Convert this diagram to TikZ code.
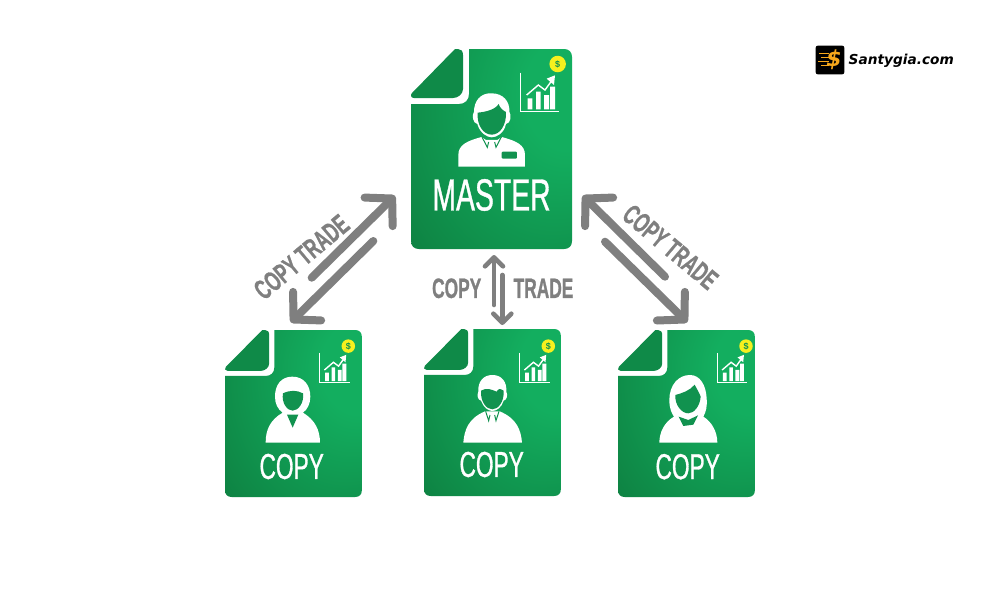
\documentclass[tikz,border=0pt]{standalone}
\usepackage{fontspec}
\usetikzlibrary{arrows.meta}
\setmainfont{Liberation Sans}
\newfontfamily\condfont[FakeStretch=.63,FakeBold=.8]{Liberation Sans}
\newfontfamily\condbold[FakeStretch=.62,FakeBold=.8]{Liberation Sans Bold}
\newfontfamily\logofont{DejaVu Sans}
\definecolor{lightg}{HTML}{13AE5F}
\definecolor{darkg}{HTML}{0D7A3D}
\definecolor{faceg}{HTML}{11924F}
\definecolor{foldg}{HTML}{0F8A48}
\definecolor{arrowgray}{HTML}{7F7F7F}
\definecolor{coiny}{HTML}{F6F01E}
\definecolor{logoorange}{HTML}{F7A81B}
\pgfdeclareradialshading{cardshade}{\pgfpoint{28bp}{16bp}}{%
  color(0bp)=(lightg); color(14bp)=(lightg); color(58bp)=(darkg); color(100bp)=(darkg)}
\tikzset{
  x=1pt,y=-1pt,
  persona/.style={fill=white},
  personb/.style={fill=faceg},
  bigarrow/.style={draw=arrowgray,line width=8pt,line cap=round,
    -{Straight Barb[length=19pt,width=40pt,round=false]}},
  thinarrow/.style={draw=arrowgray,line width=4.6pt,line cap=round,
    -{Straight Barb[length=9pt,width=18pt,round=false]}},
  graytext/.style={text=arrowgray,inner sep=0pt,font=\condbold\fontsize{28}{28}\selectfont},
  titletext/.style={text=white,inner sep=0pt,font=\condfont\fontsize{36}{36}\selectfont},
  coin/.style={circle,fill=coiny,inner sep=0pt,text=faceg,font=\bfseries},
}
\newcommand{\drawcard}[5]{%
  \begin{scope}[shift={(#1,#2)},xscale=#3,yscale=#4]
    \shade[shading=cardshade] (58,0) -- (153,0) .. controls (158,0) and (161,3) .. (161,8)
      -- (161,192) .. controls (161,197) and (158,200) .. (153,200)
      -- (8,200) .. controls (3,200) and (0,197) .. (0,192)
      -- (0,55) -- (48,55) .. controls (54,55) and (58,51) .. (58,45) -- cycle;
    \fill[foldg] (44,0) -- (47,0) .. controls (50,0) and (52,2) .. (52,6)
      -- (52,40) .. controls (52,45) and (47,49) .. (42,49)
      -- (3,49) .. controls (0,49) and (-1,46) .. (1,44) -- cycle;
    \node[inner sep=0pt,minimum width=137pt,minimum height=167pt] (#5) at (80.5,100) {};
  \end{scope}}
\newcommand{\charticon}[6]{%
  \begin{scope}[shift={(#1,#2)},scale=#3]
    \draw[white,line width=#4] (0,-115) -- (0,0) -- (118,0);
    \fill[white] (23,-5) rectangle (37,-38) (48,-5) rectangle (62,-58)
      (72,-5) rectangle (87,-48) (90,-5) rectangle (105,-73);
    \draw[white,line width=1.4pt] (20,-48) -- (55,-78) -- (75,-63) -- (98,-95);
    \fill[white] (105,-107) -- (80,-97) -- (102,-78) -- cycle;
    \node[coin,minimum size=#5] (#6) at (113,-141) {\fontsize{9}{9}\selectfont\$};
  \end{scope}}
\begin{document}
\begin{tikzpicture}
\useasboundingbox (0,0) rectangle (1000,600);
\fill[white] (0,0) rectangle (1000,600);

% Cards
\drawcard{411}{49}{1}{1}{master}
\drawcard{225}{330}{.85}{.835}{copyleft}
\drawcard{424}{329}{.85}{.835}{copymid}
\drawcard{618}{330}{.85}{.835}{copyright}

% Charts and coins
\charticon{520}{111}{.3333}{1pt}{16.5pt}{coinm}
\charticon{319.3}{382.3}{.2567}{.8pt}{13.5pt}{coina}
\charticon{519.3}{382.3}{.2567}{.8pt}{13.5pt}{coinb}
\charticon{717}{382.3}{.2567}{.8pt}{13.5pt}{coinc}

% Master person
\begin{scope}[shift={(400,40)},scale=.3333]
  \fill[persona] (275,160) .. controls (240,158) and (222,185) .. (222,215)
    .. controls (215,225) and (218,250) .. (232,252)
    .. controls (240,280) and (262,292) .. (275,292)
    .. controls (290,292) and (312,280) .. (318,252)
    .. controls (333,250) and (335,225) .. (328,215)
    .. controls (330,185) and (310,160) .. (275,160) -- cycle;
  \fill[personb] (233,218) .. controls (255,216) and (285,210) .. (296,192)
    .. controls (300,205) and (310,212) .. (318,216)
    .. controls (320,255) and (300,284) .. (275,284)
    .. controls (250,284) and (230,255) .. (233,218) -- cycle;
  \fill[persona] (175,380) -- (175,345) .. controls (175,315) and (200,303) .. (245,291)
    -- (258,300) -- (292,300) -- (305,291)
    .. controls (350,303) and (375,315) .. (375,345) -- (375,380) -- cycle;
  \draw[faceg,line width=1pt] (246,291) -- (262,322) -- (266,306) (304,291) -- (288,322) -- (284,306);
  \fill[personb,rounded corners=1pt] (305,335) rectangle (351,356);
\end{scope}

% Left copy person
\begin{scope}[shift={(215,320)},scale=.3333]
  \fill[persona] (232,170) .. controls (198,170) and (180,195) .. (180,230)
    .. controls (180,250) and (188,268) .. (203,278)
    .. controls (165,300) and (152,330) .. (152,368) -- (315,368)
    .. controls (315,330) and (300,300) .. (264,278)
    .. controls (278,268) and (286,250) .. (286,230)
    .. controls (286,195) and (266,170) .. (232,170) -- cycle;
  \fill[personb] (204,220) .. controls (225,210) and (245,210) .. (264,220)
    .. controls (268,248) and (250,272) .. (233,272)
    .. controls (216,272) and (199,248) .. (204,220) -- cycle;
  \fill[personb] (216,284) -- (250,284) -- (233,323) -- cycle;
\end{scope}

% Middle copy person
\begin{scope}[shift={(415,320)},scale=.3333]
  \fill[persona] (232,165) .. controls (205,165) and (188,185) .. (190,215)
    .. controls (185,225) and (188,240) .. (198,242)
    .. controls (205,262) and (220,273) .. (232,273)
    .. controls (245,273) and (260,262) .. (266,242)
    .. controls (276,240) and (279,225) .. (274,215)
    .. controls (276,185) and (260,165) .. (232,165) -- cycle;
  \fill[personb] (198,212) .. controls (215,202) and (228,208) .. (245,215)
    .. controls (250,205) and (255,205) .. (266,212)
    .. controls (268,245) and (250,268) .. (232,268)
    .. controls (214,268) and (196,245) .. (198,212) -- cycle;
  \fill[persona] (145,368) .. controls (148,330) and (160,295) .. (210,274)
    -- (254,274) .. controls (305,295) and (318,330) .. (321,368) -- cycle;
  \draw[faceg,line width=1pt] (212,274) -- (221,302) -- (225,285) (252,274) -- (243,302) -- (239,285);
\end{scope}

% Right copy person
\begin{scope}[shift={(610,320)},scale=.3333]
  \fill[persona] (240,165) .. controls (205,165) and (178,195) .. (178,240)
    .. controls (178,265) and (185,280) .. (192,290)
    .. controls (165,305) and (148,335) .. (148,368) -- (322,368)
    .. controls (322,335) and (305,305) .. (280,290)
    .. controls (288,275) and (292,260) .. (290,235)
    .. controls (288,195) and (270,165) .. (240,165) -- cycle;
  \fill[personb] (196,225) .. controls (215,220) and (240,212) .. (254,194)
    .. controls (262,210) and (270,222) .. (272,230)
    .. controls (270,258) and (252,280) .. (235,280)
    .. controls (215,280) and (194,255) .. (196,225) -- cycle;
  \fill[personb] (206,290) -- (235,300) -- (264,286) -- (250,314) -- (220,318) -- cycle;
\end{scope}

% Card titles
\node[titletext,font=\condfont\fontsize{45}{45}\selectfont] (mastertitle) at (491.5,195) {MASTER};
\node[titletext] (copytitlea) at (291.7,466.5) {COPY};
\node[titletext] (copytitleb) at (491.7,464.5) {COPY};
\node[titletext] (copytitlec) at (687.7,466.7) {COPY};

% Arrow ends
\coordinate (la1) at (311.7,277.7); \coordinate (la2) at (395,195.7);
\coordinate (lb1) at (373.3,241);   \coordinate (lb2) at (290.7,322.3);
\coordinate (ra1) at (665,276.7);   \coordinate (ra2) at (582.7,195.7);
\coordinate (rb1) at (605,241.7);   \coordinate (rb2) at (687.3,322.3);
\coordinate (ma1) at (494,305);     \coordinate (ma2) at (494,255);
\coordinate (mb1) at (502.3,275);   \coordinate (mb2) at (502.3,325);

\draw[bigarrow] (la1) -- (la2);
\draw[bigarrow] (lb1) -- (lb2);
\draw[bigarrow] (ra1) -- (ra2);
\draw[bigarrow] (rb1) -- (rb2);
\draw[thinarrow] (ma1) -- (ma2);
\draw[thinarrow] (mb1) -- (mb2);

% Arrow labels
\node[graytext,rotate=40] (lefttext) at (301.5,257) {COPY TRADE};
\node[graytext,rotate=-40] (righttext) at (670.5,247) {COPY TRADE};
\node[graytext] (midcopy) at (456.7,288.3) {COPY};
\node[graytext] (midtrade) at (543.5,288.3) {TRADE};

% Logo
\node[fill=black,rounded corners=2pt,minimum size=28.6pt,inner sep=0pt] (logobox) at (830,60) {};
\draw[logoorange,line width=1.7pt] (819,53.5) -- (829,53.5) (821,57.5) -- (830,57.5) (818,61.5) -- (829,61.5) (821,65.5) -- (829,65.5);
\node[text=logoorange,inner sep=0pt,font=\logofont\bfseries\itshape\fontsize{22}{22}\selectfont] (logodollar) at (834,60) {\$};
\node[anchor=west,inner sep=0pt,text=black,font=\logofont\bfseries\itshape\fontsize{13.7}{14}\selectfont] (logotext) at (848.5,60.5) {Santygia.com};
\end{tikzpicture}
\end{document}
